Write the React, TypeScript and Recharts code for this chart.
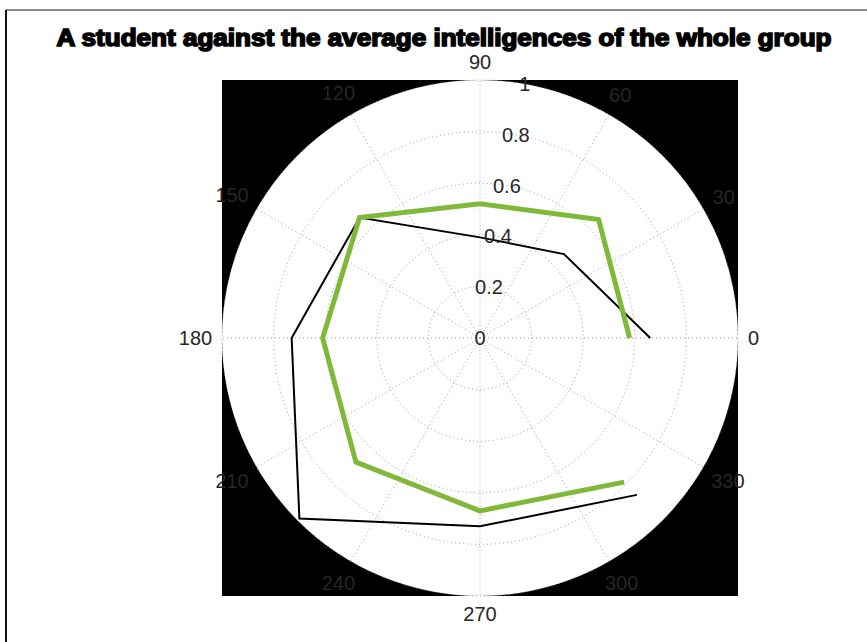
import React from 'react';
import { RadarChart, Radar, PolarGrid, PolarAngleAxis, PolarRadiusAxis } from 'recharts';

const ANGLE_LABELS = [0, 30, 60, 90, 120, 150, 180, 210, 240, 270, 300, 330];
const DATA_ANGLES = [0, 45, 90, 135, 180, 225, 270, 315];
const studentScores = [0.58, 0.65, 0.52, 0.66, 0.61, 0.68, 0.67, 0.79];
const groupAverage = [0.66, 0.46, 0.39, 0.66, 0.73, 0.99, 0.73, 0.86];
const RADIUS_TICKS = [0, 0.2, 0.4, 0.6, 0.8, 1];

const TITLE = 'A student against the average intelligences of the whole group';

const W = 867;
const H = 642;
const CX = 480;
const CY = 338;
const R = 258;
const LABEL_R = R + 10;
const FONT = '"Liberation Sans", Arial, Helvetica, sans-serif';
const TEXT_COLOR = '#262626';

const data = DATA_ANGLES.map((angle, i) => ({
  angle,
  student: studentScores[i],
  group: groupAverage[i],
}));

// polyline that is not closed (matlab polar() style)
const OpenLine = (color: string, width: number) => (props: any) => {
  const pts = (props.points || []).filter((p: any) => p.value != null && isFinite(p.x) && isFinite(p.y));
  if (!pts.length) return <g />;
  const d = pts.map((p: any, i: number) => `${i === 0 ? 'M' : 'L'}${p.x},${p.y}`).join(' ');
  return <path d={d} fill="none" stroke={color} strokeWidth={width} strokeLinejoin="miter" />;
};

// angle labels sit just outside the circle, pushed out by half their box
const AngleTick = (props: any) => {
  const { payload } = props;
  const rad = (payload.coordinate * Math.PI) / 180;
  const halfW = (String(payload.value).length * 11) / 2;
  const r = LABEL_R + Math.abs(Math.cos(rad)) * halfW + Math.abs(Math.sin(rad)) * 8;
  const x = CX + Math.cos(rad) * r;
  const y = CY - Math.sin(rad) * r;
  return (
    <text x={x} y={y} textAnchor="middle" dominantBaseline="central" fontSize={20} fontFamily={FONT} fill={TEXT_COLOR}>
      {payload.value}
    </text>
  );
};

const RadiusTick = (props: any) => {
  const { x, y, payload } = props;
  return (
    <text x={x} y={y} textAnchor="middle" dominantBaseline="central" fontSize={20} fontFamily={FONT} fill={TEXT_COLOR}>
      {payload.value}
    </text>
  );
};

export default function App() {
  return (
    <div style={{ position: 'absolute', left: 0, top: 0, width: W, height: H, background: '#fff', overflow: 'hidden' }}>
      <svg width={W} height={H} style={{ position: 'absolute', left: 0, top: 0 }}>
        <line x1={6} y1={10} x2={W} y2={10} stroke="#8a8a8a" strokeWidth={2} />
        <line x1={6} y1={10} x2={6} y2={H} stroke="#111" strokeWidth={2} />
        <rect x={CX - R} y={CY - R} width={2 * R} height={2 * R} fill="#000" />
        <circle cx={CX} cy={CY} r={R} fill="#fff" />
        <text
          x={444}
          y={46}
          textAnchor="middle"
          fontSize={23}
          fontWeight="bold"
          fontFamily={FONT}
          textLength={775}
          lengthAdjust="spacingAndGlyphs"
          fill="#000"
          stroke="#000"
          strokeWidth={1.6}
        >
          {TITLE}
        </text>
      </svg>
      <RadarChart
        width={W}
        height={H}
        data={data}
        cx={CX}
        cy={CY}
        outerRadius={R}
        startAngle={0}
        endAngle={360}
        margin={{ top: 0, right: 0, bottom: 0, left: 0 }}
      >
        <PolarGrid
          gridType="circle"
          polarAngles={ANGLE_LABELS}
          polarRadius={RADIUS_TICKS.filter(t => t > 0).map(t => t * R)}
          stroke="#9a9a9a"
          strokeDasharray="1 3"
        />
        <PolarAngleAxis
          dataKey="angle"
          type="number"
          domain={[0, 360]}
          ticks={ANGLE_LABELS as any}
          tick={AngleTick}
          axisLine={false}
          tickLine={false}
        />
        <PolarRadiusAxis
          angle={80}
          domain={[0, 1]}
          ticks={RADIUS_TICKS as any}
          tickCount={6}
          tick={RadiusTick}
          axisLine={false}
          tickLine={false}
        />
        <Radar dataKey="group" shape={OpenLine('#000', 2)} isAnimationActive={false} dot={false} />
        <Radar dataKey="student" shape={OpenLine('#80b83a', 5)} isAnimationActive={false} dot={false} />
      </RadarChart>
    </div>
  );
}
